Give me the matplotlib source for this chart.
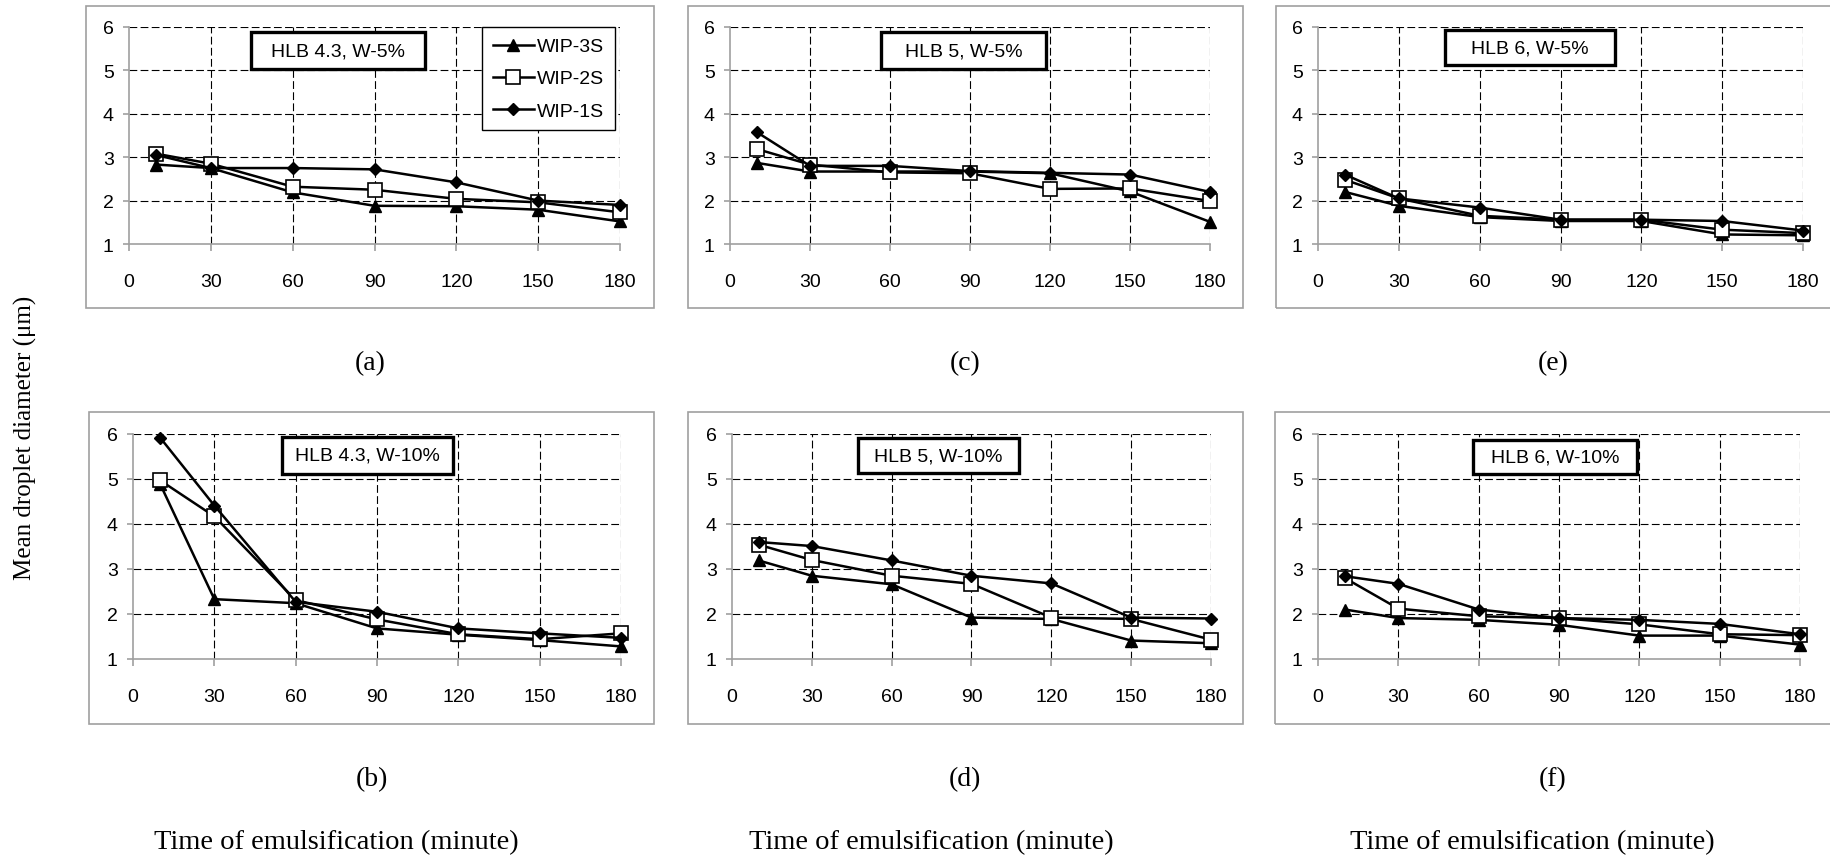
import matplotlib
matplotlib.use('Agg')
import matplotlib.pyplot as plt
from matplotlib.patches import Rectangle

W, H = 1831, 862
DPI = 100

# ---------------- data ----------------
time_min = [10, 30, 60, 90, 120, 150, 180]
x_ticks = [0, 30, 60, 90, 120, 150, 180]
y_ticks = [1, 2, 3, 4, 5, 6]
series_names = ['WIP-3S', 'WIP-2S', 'WIP-1S']

a_3s = [2.83, 2.75, 2.19, 1.88, 1.87, 1.79, 1.52]
a_2s = [3.08, 2.85, 2.32, 2.25, 2.04, 1.96, 1.73]
a_1s = [3.05, 2.75, 2.75, 2.72, 2.42, 2.00, 1.90]

b_3s = [4.89, 2.33, 2.24, 1.68, 1.54, 1.42, 1.28]
b_2s = [4.97, 4.17, 2.31, 1.88, 1.55, 1.44, 1.57]
b_1s = [5.92, 4.41, 2.27, 2.05, 1.68, 1.57, 1.47]

c_3s = [2.87, 2.67, 2.67, 2.67, 2.63, 2.21, 1.51]
c_2s = [3.19, 2.83, 2.65, 2.63, 2.27, 2.28, 1.99]
c_1s = [3.58, 2.80, 2.80, 2.68, 2.64, 2.60, 2.20]

d_3s = [3.19, 2.85, 2.66, 1.92, 1.89, 1.41, 1.35]
d_2s = [3.54, 3.20, 2.85, 2.67, 1.92, 1.89, 1.43]
d_1s = [3.60, 3.51, 3.19, 2.85, 2.68, 1.92, 1.90]

e_3s = [2.20, 1.88, 1.62, 1.53, 1.53, 1.22, 1.20]
e_2s = [2.48, 2.05, 1.65, 1.56, 1.56, 1.33, 1.25]
e_1s = [2.60, 2.05, 1.84, 1.56, 1.56, 1.53, 1.31]

f_3s = [2.10, 1.91, 1.87, 1.76, 1.52, 1.52, 1.32]
f_2s = [2.80, 2.12, 1.95, 1.91, 1.77, 1.55, 1.53]
f_1s = [2.84, 2.67, 2.10, 1.91, 1.87, 1.78, 1.55]

panel_titles = {'a': 'HLB 4.3, W-5%', 'c': 'HLB 5, W-5%', 'e': 'HLB 6, W-5%',
                'b': 'HLB 4.3, W-10%', 'd': 'HLB 5, W-10%', 'f': 'HLB 6, W-10%'}
panel_series = {'a': (a_3s, a_2s, a_1s), 'b': (b_3s, b_2s, b_1s),
                'c': (c_3s, c_2s, c_1s), 'd': (d_3s, d_2s, d_1s),
                'e': (e_3s, e_2s, e_1s), 'f': (f_3s, f_2s, f_1s)}
x_label = 'Time of emulsification (minute)'
y_label = 'Mean droplet diameter (\u03bcm)'

# ---------------- layout (pixels, top-left origin) ----------------
layout = {
    'a': dict(ax=(129, 620, 28, 245), frame=(86, 7, 654, 309), box=(0.248, 0.603, 0.806, 0.977)),
    'c': dict(ax=(730, 1210, 28, 245), frame=(688, 7, 1243, 309), box=(0.315, 0.658, 0.806, 0.977)),
    'e': dict(ax=(1318, 1803, 28, 245), frame=(1276, 7, 1836, 309), box=(0.262, 0.612, 0.825, 0.986)),
    'b': dict(ax=(133, 621, 435, 660), frame=(89, 413, 654, 725), box=(0.305, 0.656, 0.822, 0.987)),
    'd': dict(ax=(732, 1211, 435, 660), frame=(688, 413, 1243, 725), box=(0.263, 0.599, 0.825, 0.983)),
    'f': dict(ax=(1318, 1800, 435, 660), frame=(1275, 413, 1836, 725), box=(0.322, 0.662, 0.821, 0.974)),
}
letter_x = {'a': 370, 'b': 372, 'c': 965, 'd': 965, 'e': 1553, 'f': 1553}
xlabel_x = [336, 931, 1532]

SANS = ['Liberation Sans', 'DejaVu Sans']
SERIF = ['Liberation Serif', 'DejaVu Serif']
GRAY = '#a0a0a0'

fig = plt.figure(figsize=(W / DPI, H / DPI), dpi=DPI)
fig.patch.set_facecolor('white')


def fx(px):
    return px / W


def fy(py):
    return 1 - py / H


markers = [dict(marker='^', markersize=8, markerfacecolor='black', markeredgecolor='black'),
           dict(marker='s', markersize=9.5, markerfacecolor='white', markeredgecolor='black', markeredgewidth=1.2),
           dict(marker='D', markersize=6, markerfacecolor='black', markeredgecolor='black')]

for key, lay in layout.items():
    l, t, r, b = lay['frame']
    fig.patches.append(Rectangle((fx(l), fy(b)), fx(r - l), (b - t) / H,
                                 transform=fig.transFigure, facecolor='none',
                                 edgecolor=GRAY, linewidth=1.2, zorder=0))
    x0, x1, y0, y1 = lay['ax']
    ax = fig.add_axes([fx(x0), fy(y1), fx(x1 - x0), (y1 - y0) / H])
    ax.set_facecolor('none')
    ax.set_xlim(x_ticks[0], x_ticks[-1])
    ax.set_ylim(y_ticks[0], y_ticks[-1])
    for s in ['top', 'right']:
        ax.spines[s].set_visible(False)
    for s in ['left', 'bottom']:
        ax.spines[s].set_color(GRAY)
        ax.spines[s].set_linewidth(1.2)
    ax.set_xticks(x_ticks)
    ax.set_yticks(y_ticks)
    ax.tick_params(axis='both', color=GRAY, width=1.2, labelsize=14, direction='out')
    ax.tick_params(axis='y', length=4, pad=7)
    ax.tick_params(axis='x', length=5, pad=16)
    for lab in ax.get_xticklabels() + ax.get_yticklabels():
        lab.set_family(SANS)
    for yv in y_ticks[1:]:
        ax.axhline(yv, color='black', linewidth=0.8, linestyle=(0, (7, 3)), zorder=1)
    for xv in x_ticks[1:]:
        ax.axvline(xv, color='black', linewidth=0.8, linestyle=(0, (7, 3)), zorder=1)
    for vals, name, mk in zip(panel_series[key], series_names, markers):
        ax.plot(time_min, vals, color='black', linewidth=1.8, label=name,
                clip_on=False, zorder=3, **mk)
    bx0, bx1, by0, by1 = lay['box']
    ax.add_patch(Rectangle((bx0, by0), bx1 - bx0, by1 - by0, transform=ax.transAxes,
                           facecolor='white', edgecolor='black', linewidth=2.4, zorder=4))
    ax.text((bx0 + bx1) / 2, (by0 + by1) / 2, panel_titles[key], transform=ax.transAxes,
            ha='center', va='center', fontsize=14, family=SANS, zorder=5)
    fig.text(fx(letter_x[key]), fy(b + 55), '(' + key + ')', ha='center', va='center',
             fontsize=20, family=SERIF)
    if key == 'a':
        leg = ax.legend(loc='upper right', bbox_to_anchor=(0.989, 1.0), frameon=True,
                        fancybox=False, edgecolor='black', framealpha=1,
                        prop={'family': SANS, 'size': 14}, handlelength=2.1,
                        handletextpad=0.15, labelspacing=0.75, borderpad=0.55,
                        borderaxespad=0)
        leg.get_frame().set_linewidth(1.0)
        leg.set_zorder(6)

for cx in xlabel_x:
    fig.text(fx(cx), fy(843), x_label, ha='center', va='center',
             fontsize=20.5, family=SERIF)

fig.text(fx(25), fy(438), y_label, ha='center', va='center', rotation=90,
         fontsize=18, family=SERIF)

fig.savefig('out.png', dpi=DPI, facecolor='white')
